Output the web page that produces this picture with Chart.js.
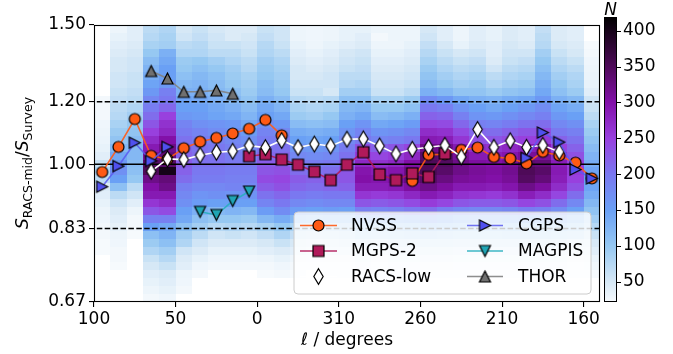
<!DOCTYPE html>
<html>
<head>
<meta charset="utf-8">
<script src="https://cdn.jsdelivr.net/npm/chart.js@4.4.0/dist/chart.umd.min.js"></script>
<style>
  html, body { margin: 0; padding: 0; background: #fff; }
</style>
</head>
<body>
<canvas id="ratioChart" width="673" height="354"></canvas>
<script>
const FONT = "'DejaVu Sans', sans-serif";

// Galactic longitude of each 10 degree bin centre, running 100 -> 0 -> 360 -> 150
const binCentres = [95, 85, 75, 65, 55, 45, 35, 25, 15, 5, 355, 345, 335, 325, 315, 305,
  295, 285, 275, 265, 255, 245, 235, 225, 215, 205, 195, 185, 175, 165, 155];

// median flux-density ratio per bin (null where the survey has no overlap)
const nvss = [0.978, 1.052, 1.141, 1.025, 1.015, 1.048, 1.068, 1.080, 1.094, 1.109, 1.138, 1.088,
  null, null, null, null, null, null, null, 0.953, 1.028, 1.030, 1.043, 1.050, 1.022, 1.017,
  1.003, 1.037, 1.026, 1.005, 0.960];
const mgps2 = [null, null, null, null, null, null, null, null, null, 1.024, 1.030, 1.014,
  0.999, 0.979, 0.955, 0.999, 1.036, 0.971, 0.955, 0.974, 0.964, 1.032,
  null, null, null, null, null, null, null, null, null];
const racsLow = [null, null, null, 0.980, 1.016, 1.014, 1.027, 1.036, 1.039, 1.056, 1.050, 1.072,
  1.050, 1.061, 1.055, 1.076, 1.077, 1.055, 1.031, 1.045, 1.051, 1.057, 1.022, 1.107,
  1.051, 1.071, 1.051, 1.057, 1.037, null, null];
const cgps = [0.937, 0.995, 1.065, 1.010, 1.052, null, null, null, null, null, null, null,
  null, null, null, null, null, null, null, null, null, null, null, null, null, null,
  1.019, 1.097, 1.067, 0.985, 0.960];
const magpis = [null, null, null, null, null, null, 0.871, 0.863, 0.899, 0.924, null, null,
  null, null, null, null, null, null, null, null, null, null, null, null, null, null,
  null, null, null, null, null];
const thor = [null, null, null, 1.312, 1.284, 1.235, 1.235, 1.240, 1.228, null, null, null,
  null, null, null, null, null, null, null, null, null, null, null, null, null, null,
  null, null, null, null, null];

// source counts N per cell: one list per 10 degree longitude bin (l = 100-90 first),
// rows run from ratio 1.5 (top) down to 0.67 in steps of 0.01 dex
const counts = [
  [0,0,0,0,0,0,0,0,0,25,25,25,28,30,32,35,40,60,80,70,45,40,35,30,28,25,25,22,22,0,0,0,0,0,0],
  [30,35,40,45,50,50,55,55,60,65,70,75,85,95,105,120,140,160,170,150,110,70,55,45,40,35,30,28,25,25,22,0,0,0,0],
  [40,40,45,50,55,55,60,60,65,70,80,90,100,105,115,120,120,115,110,100,70,55,40,30,25,25,22,0,0,0,0,0,0,0,0],
  [70,75,85,100,115,125,135,145,160,180,195,210,230,250,270,290,310,340,350,320,300,290,260,230,190,150,110,95,80,60,50,40,35,30,25],
  [80,85,90,130,140,150,150,160,190,200,215,250,265,275,300,320,330,340,400,330,320,290,270,240,190,140,125,110,90,75,60,45,40,35,28],
  [50,55,70,80,95,100,110,120,130,145,150,160,185,195,205,215,220,225,220,210,190,180,170,150,140,110,90,80,55,45,40,30,28,25,0],
  [60,65,75,80,100,110,120,125,130,140,150,155,170,185,195,205,210,205,200,195,180,165,155,130,110,90,70,55,45,35,28,25,0,0,0],
  [50,55,60,70,90,100,110,115,120,130,140,145,165,175,190,200,205,205,200,195,180,170,150,120,100,75,55,45,35,28,25,0,0,0,0],
  [45,45,60,70,80,90,95,100,110,120,130,140,160,170,180,190,195,200,195,190,185,165,150,125,100,80,60,45,35,28,25,0,0,0,0],
  [45,50,55,60,70,75,85,90,95,105,115,125,140,155,170,180,190,200,195,190,180,165,150,120,95,75,55,45,35,28,25,0,0,0,0],
  [60,65,75,80,90,95,100,110,115,130,140,150,170,185,195,205,215,225,230,240,225,205,185,155,120,85,65,50,40,30,25,22,0,0,0],
  [55,55,60,70,80,85,90,95,100,115,125,140,160,180,195,205,215,225,235,245,235,215,200,175,135,100,80,60,45,35,28,25,0,0,0],
  [30,30,35,40,45,50,50,55,60,75,85,95,115,135,150,165,180,200,210,225,215,200,180,155,120,85,65,50,40,30,25,22,0,0,0],
  [28,28,30,35,40,45,50,55,60,70,80,90,110,130,145,160,175,195,205,220,210,195,175,150,115,80,60,45,35,28,25,0,0,0,0],
  [30,30,35,40,45,50,55,55,50,75,85,100,115,135,150,165,180,200,210,225,215,200,180,155,120,85,65,50,40,30,25,22,0,0,0],
  [35,35,40,50,55,60,70,75,90,110,120,130,150,165,180,195,205,220,230,230,220,200,180,150,120,90,70,55,40,30,25,22,0,0,0],
  [35,40,45,55,60,65,70,80,90,110,125,140,165,185,200,235,255,275,295,300,285,260,230,190,140,105,80,60,45,35,28,22,0,0,0],
  [30,25,30,35,40,45,50,55,60,85,100,115,140,165,185,220,245,265,285,295,285,255,225,185,135,100,75,55,40,30,25,22,0,0,0],
  [30,30,30,35,40,45,50,55,60,85,100,120,145,170,190,230,255,275,295,305,290,260,230,190,140,105,80,60,45,35,28,22,0,0,0],
  [30,30,35,40,45,50,55,60,70,95,110,130,155,180,200,245,275,300,320,325,305,275,240,200,145,110,85,60,45,35,28,22,0,0,0],
  [50,55,65,75,85,95,105,115,130,175,200,220,245,270,290,320,340,350,350,340,320,290,255,210,160,120,90,65,50,38,30,25,0,0,0],
  [40,40,50,60,70,80,90,100,120,160,190,215,240,265,285,315,335,345,340,325,305,280,245,195,150,115,85,65,50,38,30,25,0,0,0],
  [30,30,35,50,60,70,80,90,105,140,165,190,215,240,260,290,310,320,320,310,290,265,230,185,140,110,80,60,45,35,28,22,0,0,0],
  [40,40,45,55,65,75,85,95,105,130,150,165,190,215,235,270,290,305,310,305,290,260,225,180,135,105,80,60,45,35,28,22,0,0,0],
  [35,35,40,40,45,55,70,80,95,125,140,160,185,210,230,265,285,300,305,300,285,255,225,180,135,105,80,60,45,35,28,22,0,0,0],
  [45,45,50,55,60,70,80,90,105,135,150,170,195,220,240,275,295,310,315,310,295,265,230,185,140,110,85,60,45,35,28,22,0,0,0],
  [40,40,45,55,65,75,85,95,110,140,160,180,205,230,250,285,310,335,350,345,320,285,245,195,145,110,85,60,45,35,28,22,0,0,0],
  [65,70,75,90,100,110,120,130,140,160,175,190,210,235,255,290,310,330,340,330,305,270,235,190,145,110,85,60,45,35,28,22,0,0,0],
  [45,45,50,60,70,80,90,100,110,130,145,160,180,200,220,250,270,285,290,285,270,245,210,175,135,105,80,60,45,35,28,22,0,0,0],
  [40,40,45,50,60,70,80,85,95,120,135,150,170,190,205,220,235,250,255,250,235,210,180,150,120,95,75,55,40,30,25,22,0,0,0],
  [0,0,22,25,28,30,32,35,40,55,60,70,85,95,105,115,125,135,145,150,145,135,120,105,90,75,60,48,40,32,27,22,0,0,0]
];

const xTicks = [100, 50, 0, -50, -100, -150, -200];
const yTicks = [0.67, 0.83, 1.00, 1.20, 1.50];
const cbTicks = [50, 100, 150, 200, 250, 300, 350, 400];
const dashedLevels = [1.20, 0.83];
const unityLevel = [1.00];

const X_MIN = -210, X_MAX = 100;
const Y_MIN = 0.67, Y_MAX = 1.5;
const CB_LO = 22, CB_HI = 419;

// longitudes past 100 are plotted as negative so the axis runs continuously through l = 0
const unwrap = l => (l > 100 ? l - 360 : l);

// histogram bin edges: 10 degrees in longitude, 0.01 dex in ratio
const lonEdges = counts.map((_, i) => 100 - 10 * i).concat([100 - 10 * counts.length]);
const ratioEdges = counts[0].map((_, k) => 1.5 * Math.pow(10, -0.01 * k)).concat([1.5 * Math.pow(10, -0.01 * counts[0].length)]);

const cmapStops = [
  [22, [246, 250, 253]],
  [50, [214, 232, 246]],
  [100, [150, 200, 242]],
  [150, [106, 160, 245]],
  [200, [122, 120, 240]],
  [250, [152, 64, 222]],
  [300, [130, 16, 168]],
  [350, [78, 10, 88]],
  [419, [0, 0, 0]]
];

function cmap(n) {
  if (n <= cmapStops[0][0]) return `rgb(${cmapStops[0][1].join(',')})`;
  for (let i = 1; i < cmapStops.length; i++) {
    const [v1, c1] = cmapStops[i];
    if (n <= v1) {
      const [v0, c0] = cmapStops[i - 1];
      const t = (n - v0) / (v1 - v0);
      const c = c0.map((a, j) => Math.round(a + (c1[j] - a) * t));
      return `rgb(${c.join(',')})`;
    }
  }
  return 'rgb(0,0,0)';
}

// marker sprites in matplotlib style (black edge)
function marker(shape, face, size) {
  const c = document.createElement('canvas');
  const dim = Math.ceil(size * 1.5) + 4;
  c.width = c.height = dim;
  const g = c.getContext('2d');
  const m = dim / 2, h = size / 2;
  g.beginPath();
  if (shape === 'circle') {
    g.arc(m, m, h, 0, Math.PI * 2);
  } else if (shape === 'square') {
    g.rect(m - h, m - h, size, size);
  } else if (shape === 'thinDiamond') {
    const d = h * Math.SQRT2;
    g.moveTo(m, m - d); g.lineTo(m + 0.6 * d, m); g.lineTo(m, m + d); g.lineTo(m - 0.6 * d, m);
    g.closePath();
  } else if (shape === 'up') {
    g.moveTo(m, m - h); g.lineTo(m + h, m + h); g.lineTo(m - h, m + h); g.closePath();
  } else if (shape === 'down') {
    g.moveTo(m, m + h); g.lineTo(m + h, m - h); g.lineTo(m - h, m - h); g.closePath();
  } else if (shape === 'right') {
    g.moveTo(m + h, m); g.lineTo(m - h, m - h); g.lineTo(m - h, m + h); g.closePath();
  }
  g.fillStyle = face;
  g.fill();
  g.lineWidth = 1.2;
  g.strokeStyle = '#000';
  g.lineJoin = 'miter';
  g.stroke();
  return c;
}

const MS = 11;
function series(label, values, face, line, shape, order) {
  // points in ascending x so the line controller's range lookup works
  const pts = binCentres.map((l, i) => ({ x: unwrap(l), y: values[i] })).sort((a, b) => a.x - b.x);
  return {
    label, order,
    data: pts,
    borderColor: line,
    borderWidth: 1.6,
    pointStyle: marker(shape, face, MS),
    pointRadius: 5,
    pointHoverRadius: 5,
    spanGaps: false,
    tension: 0,
    fill: false
  };
}

function level(y, dashed) {
  return {
    label: '_ref', order: 10,
    data: [{ x: X_MIN, y }, { x: X_MAX, y }],
    borderColor: '#000', borderWidth: 1.5,
    borderDash: dashed ? [5.5, 2.4] : [],
    pointRadius: 0, fill: false
  };
}

const datasets = [
  ...dashedLevels.map(v => level(v, true)),
  ...unityLevel.map(v => level(v, false)),
  series('NVSS', nvss, '#ff5a14', 'rgba(255,90,20,0.9)', 'circle', 6),
  series('MGPS-2', mgps2, '#b01a5a', 'rgba(176,26,90,0.9)', 'square', 5),
  series('RACS-low', racsLow, '#ffffff', '#ffffff', 'thinDiamond', 4),
  series('CGPS', cgps, '#5050ee', 'rgba(90,90,240,0.85)', 'right', 3),
  series('MAGPIS', magpis, '#20a5b5', 'rgba(40,175,190,0.9)', 'down', 2),
  series('THOR', thor, '#707070', 'rgba(130,130,130,0.9)', 'up', 1)
];

const heatmap = {
  id: 'heatmap',
  beforeDatasetsDraw(chart) {
    const { ctx, chartArea: a, scales: { x, y } } = chart;
    ctx.save();
    ctx.beginPath();
    ctx.rect(a.left, a.top, a.right - a.left, a.bottom - a.top);
    ctx.clip();
    counts.forEach((col, i) => {
      const xa = Math.round(x.getPixelForValue(lonEdges[i]));
      const xb = Math.round(x.getPixelForValue(lonEdges[i + 1]));
      col.forEach((n, k) => {
        if (!n) return;
        const ya = Math.round(y.getPixelForValue(ratioEdges[k]));
        const yb = Math.round(y.getPixelForValue(ratioEdges[k + 1]));
        ctx.fillStyle = cmap(n);
        ctx.fillRect(Math.min(xa, xb), Math.min(ya, yb), Math.abs(xb - xa), Math.abs(yb - ya));
      });
    });
    ctx.restore();
  }
};

const frame = {
  id: 'frame',
  afterDatasetsDraw(chart) {
    const { ctx, chartArea: a } = chart;
    ctx.save();
    ctx.strokeStyle = '#000';
    ctx.lineWidth = 1.1;
    ctx.strokeRect(a.left + 0.5, a.top + 0.5, a.right - a.left - 1, a.bottom - a.top - 1);
    ctx.restore();
  }
};

const colorbar = {
  id: 'colorbar',
  afterDraw(chart) {
    const { ctx } = chart;
    const s = chart.scales.cb;
    const left = 604, right = 617;
    const top = Math.round(s.getPixelForValue(CB_HI));
    const bottom = Math.round(s.getPixelForValue(CB_LO));
    ctx.save();
    for (let py = top; py < bottom; py++) {
      ctx.fillStyle = cmap(s.getValueForPixel(py + 0.5));
      ctx.fillRect(left, py, right - left, 1);
    }
    ctx.strokeStyle = '#000';
    ctx.lineWidth = 1;
    ctx.strokeRect(left + 0.5, top + 0.5, right - left - 1, bottom - top - 1);
    cbTicks.forEach(v => {
      const py = Math.round(s.getPixelForValue(v)) + 0.5;
      ctx.beginPath();
      ctx.moveTo(right, py);
      ctx.lineTo(right + 4, py);
      ctx.stroke();
    });
    ctx.fillStyle = '#000';
    ctx.font = "italic 17px " + FONT;
    ctx.textAlign = 'center';
    ctx.textBaseline = 'middle';
    ctx.fillText('N', 610.5, 10.5);
    ctx.restore();
  }
};

// y-axis label with subscripts, drawn rotated
const yTitle = {
  id: 'yTitle',
  afterDraw(chart) {
    const { ctx } = chart;
    const parts = [
      ['S', "italic 17px " + FONT, 0],
      ['RACS-mid', "12.5px " + FONT, 4],
      ['/', "17px " + FONT, 0],
      ['S', "italic 17px " + FONT, 0],
      ['Survey', "12.5px " + FONT, 4]
    ];
    ctx.save();
    let total = 0;
    const widths = parts.map(([t, f]) => { ctx.font = f; const w = ctx.measureText(t).width; total += w; return w; });
    ctx.translate(28, 163);
    ctx.rotate(-Math.PI / 2);
    ctx.fillStyle = '#000';
    ctx.textBaseline = 'alphabetic';
    ctx.textAlign = 'left';
    let px = -total / 2;
    parts.forEach(([t, f, dy], i) => {
      ctx.font = f;
      ctx.fillText(t, px, dy);
      px += widths[i];
    });
    ctx.restore();
  }
};

// legend panel inside the plot, two columns
const legendBox = {
  id: 'legendBox',
  afterDraw(chart) {
    const { ctx } = chart;
    const bx = 294, by = 212, bw = 297, bh = 82, r = 4;
    ctx.save();
    ctx.beginPath();
    ctx.moveTo(bx + r, by);
    ctx.arcTo(bx + bw, by, bx + bw, by + bh, r);
    ctx.arcTo(bx + bw, by + bh, bx, by + bh, r);
    ctx.arcTo(bx, by + bh, bx, by, r);
    ctx.arcTo(bx, by, bx + bw, by, r);
    ctx.closePath();
    ctx.fillStyle = 'rgba(255,255,255,0.8)';
    ctx.fill();
    ctx.strokeStyle = '#cccccc';
    ctx.lineWidth = 1;
    ctx.stroke();
    const rows = [225.5, 251, 276.5];
    const cols = [{ h0: 300, h1: 337, t: 351 }, { h0: 467, h1: 503, t: 518 }];
    const entries = chart.data.datasets.filter(d => d.label !== '_ref');
    entries.forEach((d, i) => {
      const c = cols[Math.floor(i / 3)];
      const y = rows[i % 3];
      ctx.strokeStyle = d.borderColor;
      ctx.lineWidth = d.borderWidth;
      ctx.beginPath();
      ctx.moveTo(c.h0, y);
      ctx.lineTo(c.h1, y);
      ctx.stroke();
      const img = d.pointStyle;
      ctx.drawImage(img, (c.h0 + c.h1) / 2 - img.width / 2, y - img.height / 2);
      ctx.fillStyle = '#000';
      ctx.font = "17px " + FONT;
      ctx.textBaseline = 'middle';
      ctx.textAlign = 'left';
      ctx.fillText(d.label, c.t, y + 1);
    });
    ctx.restore();
  }
};

const tickFont = { family: FONT, size: 17 };

new Chart(document.getElementById('ratioChart').getContext('2d'), {
  type: 'line',
  data: { datasets },
  options: {
    responsive: false,
    animation: false,
    events: [],
    layout: { padding: { top: 25, left: 0, right: 0, bottom: 0 } },
    plugins: { legend: { display: false }, tooltip: { enabled: false } },
    scales: {
      x: {
        type: 'linear', reverse: true, min: X_MIN, max: X_MAX,
        afterBuildTicks: s => { s.ticks = xTicks.map(v => ({ value: v })); },
        afterFit: s => { s.height = 52; },
        grid: { drawOnChartArea: false, drawTicks: true, tickLength: 5, color: '#000', lineWidth: 1.1 },
        border: { display: false },
        ticks: {
          autoSkip: false, maxRotation: 0, padding: 2, color: '#000', font: tickFont,
          callback: v => String(((v % 360) + 360) % 360)
        },
        title: { display: true, text: 'ℓ / degrees', color: '#000', font: tickFont, padding: { top: 0, bottom: 3 } }
      },
      y: {
        type: 'logarithmic', min: Y_MIN, max: Y_MAX,
        afterBuildTicks: s => { s.ticks = yTicks.map(v => ({ value: v })); },
        afterFit: s => { s.width = 94; },
        grid: { drawOnChartArea: false, drawTicks: true, tickLength: 5, color: '#000', lineWidth: 1.1 },
        border: { display: false },
        ticks: { autoSkip: false, padding: 3, color: '#000', font: tickFont, callback: v => Number(v).toFixed(2) }
      },
      cb: {
        type: 'linear', position: 'right', min: 21.7, max: 407.9,
        afterBuildTicks: s => { s.ticks = cbTicks.map(v => ({ value: v })); },
        afterFit: s => { s.width = 73; },
        // invisible tick marks push the labels clear of the colour bar
        grid: { display: true, drawOnChartArea: false, drawTicks: true, tickLength: 20, color: 'rgba(0,0,0,0)' },
        border: { display: false },
        ticks: { autoSkip: false, padding: 3, color: '#000', font: tickFont }
      }
    }
  },
  plugins: [heatmap, frame, colorbar, yTitle, legendBox]
});
</script>
</body>
</html>
